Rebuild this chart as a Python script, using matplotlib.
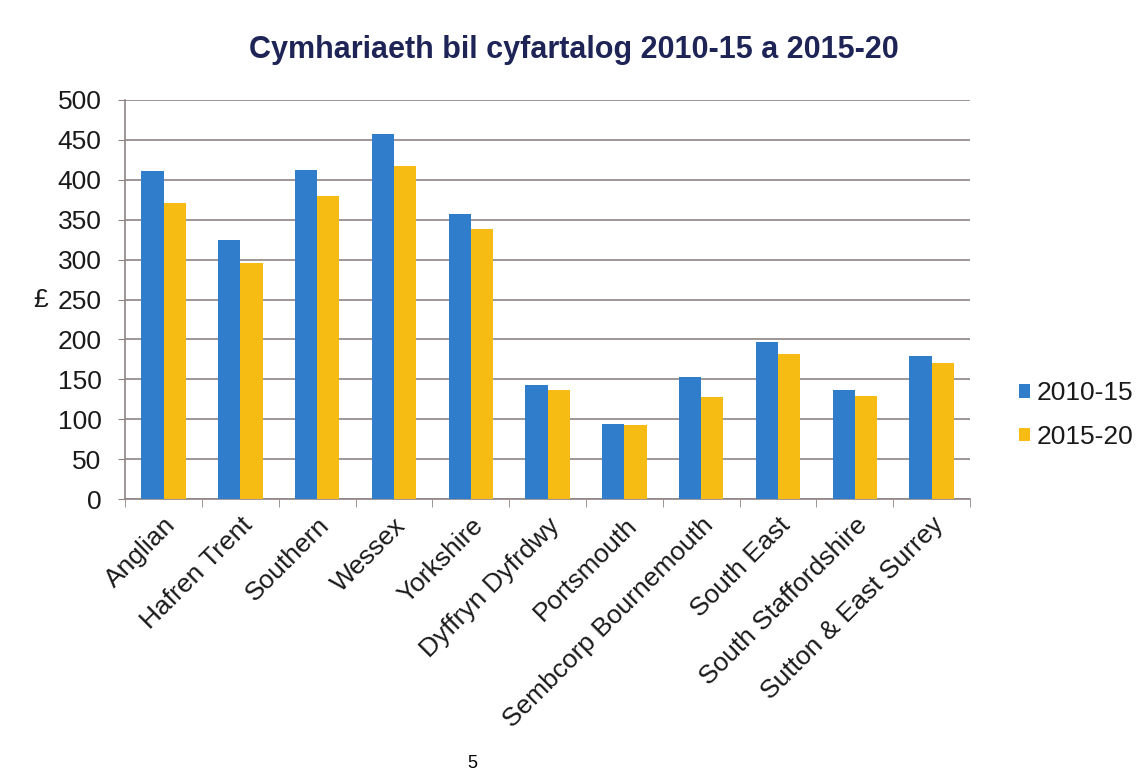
import numpy as np
import matplotlib.pyplot as plt

plt.rcParams['font.family'] = ['Liberation Sans', 'DejaVu Sans']

companies = ['Anglian', 'Hafren Trent', 'Southern', 'Wessex', 'Yorkshire',
             'Dyffryn Dyfrdwy', 'Portsmouth', 'Sembcorp Bournemouth',
             'South East', 'South Staffordshire', 'Sutton & East Surrey']
bill_2010 = [411, 325, 412, 457, 357, 143, 94, 153, 197, 137, 179]
bill_2015 = [371, 296, 380, 417, 338, 137, 93, 128, 182, 129, 170]
yticks = np.arange(0, 501, 50)

blue = '#2f7dcb'
yellow = '#f6bc14'
grid_c = '#8f8585'

fig = plt.figure(figsize=(11.48, 7.74), dpi=100)
ax = fig.add_axes([0.109, 0.355, 0.736, 0.516])

x = np.arange(len(companies))
w = 0.29
ax.bar(x - w/2, bill_2010, w, color=blue, label='2010-15', zorder=3)
ax.bar(x + w/2, bill_2015, w, color=yellow, label='2015-20', zorder=3)

ax.set_xlim(-0.5, len(companies) - 0.5)
ax.set_ylim(0, 500)
ax.set_yticks(yticks)
ax.tick_params(axis='y', labelsize=19, length=5, color=grid_c, pad=12, labelcolor='#1a1a1a')
ax.yaxis.grid(True, color=grid_c, linewidth=1.2, zorder=0)

# category labels and the small tick marks between groups
ax.set_xticks(x)
ax.set_xticklabels(companies, rotation=45, ha='right', rotation_mode='anchor', fontsize=19)
ax.tick_params(axis='x', length=0, pad=10, labelcolor='#1a1a1a')
ax.set_xticks(np.arange(-0.5, len(companies)), minor=True)
ax.tick_params(axis='x', which='minor', length=6, color=grid_c)

for s in ['top', 'right']:
    ax.spines[s].set_visible(False)
ax.spines['left'].set_color(grid_c)
ax.spines['bottom'].set_color(grid_c)
ax.spines['left'].set_linewidth(1.2)
ax.spines['bottom'].set_linewidth(1.2)

ax.set_ylabel('£', fontsize=19, rotation=0, labelpad=12, va='center', color='#1a1a1a')

fig.text(0.5, 0.935, 'Cymhariaeth bil cyfartalog 2010-15 a 2015-20',
         ha='center', va='center', fontsize=22, fontweight='bold', color='#1e2456')

leg = ax.legend(loc='center left', bbox_to_anchor=(1.03, 0.21), frameon=False,
                fontsize=19, handlelength=0.4, handleheight=0.4,
                handletextpad=0.25, labelspacing=0.75)
for t in leg.get_texts():
    t.set_color('#1a1a1a')

fig.text(0.411, 0.003, '5', ha='center', va='bottom', fontsize=13)

plt.savefig('out.png', dpi=100)
